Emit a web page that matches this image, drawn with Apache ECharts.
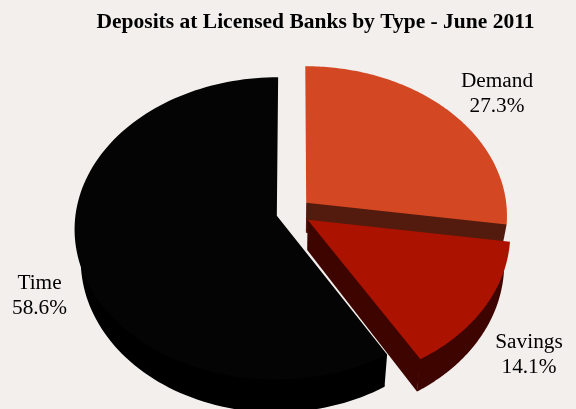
<!DOCTYPE html>
<html>
<head>
<meta charset="utf-8">
<style>html,body{margin:0;padding:0;background:#f2efed}#c{width:576px;height:409px}</style>
<script src="https://cdn.jsdelivr.net/npm/echarts@6/dist/echarts.min.js"></script>
</head>
<body>
<div id="c"></div>
<script>
// Deposit shares by type, clockwise from twelve o'clock
const categories = ['Demand', 'Savings', 'Time'];
const shares = [27.3, 14.1, 58.6];
const chartTitle = 'Deposits at Licensed Banks by Type - June 2011';

const faceColors = ['#d34722', '#ab1300', '#040404'];
const wallColors = ['#531b0d', '#3e0500', '#000000'];
const labelAnchors = [[497, 94], [529, 355], [39.5, 296]];
const explodeX = [0.0807, 0.0807, 0.0885];
// Painter's order: the Savings wedge sits over its neighbours
const drawOrder = [2, 0, 1];

// Projection of the tilted disc
const view = {
  cx: 294, cy: 212, rx: 201, ry: 149.5, persp: 0.0834,
  depth: 30, wallShrink: 0.972, explodeY: 0.094, wallInset: 0.03, backLimit: -0.3
};
const ARC_STEPS = 120;

const total = shares.reduce((a, b) => a + b, 0);

function renderSlice(params, api) {
  const i = api.value(0);
  const value = api.value(1);
  const before = shares.slice(0, i).reduce((a, b) => a + b, 0);
  const a0 = before / total * Math.PI * 2;
  const a1 = (before + value) / total * Math.PI * 2;
  const mid = (a0 + a1) / 2;
  const ex = explodeX[i] * Math.sin(mid);
  const ey = -view.explodeY * Math.cos(mid);

  // Unit-disc point, pushed out along the wedge's middle, then projected
  const top = (u, v) => {
    const wv = v + ey;
    const f = 1 / (1 - view.persp * wv);
    return [view.cx + view.rx * (u + ex) * f, view.cy + view.ry * wv * f, f];
  };
  const under = (p) => [view.cx + (p[0] - view.cx) * view.wallShrink, p[1] + view.depth * p[2]];
  const xy = (p) => [p[0], p[1]];

  const arc = [];
  const frontArc = [];
  for (let s = 0; s <= ARC_STEPS; s++) {
    const a = a0 + (a1 - a0) * s / ARC_STEPS;
    const p = top(Math.sin(a), -Math.cos(a));
    arc.push(p);
    if (-Math.cos(a) > view.backLimit) frontArc.push(p);
  }
  const tip = top(0, 0);
  const inner = top(Math.sin(mid) * 0.5, -Math.cos(mid) * 0.5);
  // Only the radial edge nearer the viewer shows a wall
  const edge = -Math.cos(a0) > -Math.cos(a1) ? arc[0] : arc[arc.length - 1];

  // Upper edges of the walls are tucked under the face so no seam shows
  const tuck = (p) => [
    p[0] + (inner[0] - p[0]) * view.wallInset,
    p[1] + (inner[1] - p[1]) * view.wallInset
  ];
  const face = [tip].concat(arc).map(xy);
  const arcWall = frontArc.map(tuck).concat(frontArc.slice().reverse().map(under));
  const side = [tuck(tip), tuck(edge), xy(edge), under(edge), under(tip), xy(tip)];

  const wallStyle = { fill: wallColors[i] };
  const poly = (points, style) => ({ type: 'polygon', shape: { points }, style });
  const anchor = labelAnchors[i];
  return {
    type: 'group',
    children: [
      poly(side, wallStyle),
      poly(arcWall, wallStyle),
      poly(face, { fill: faceColors[i] }),
      {
        type: 'text', x: anchor[0], y: anchor[1],
        style: {
          text: categories[i] + '\n' + value.toFixed(1) + '%',
          fill: '#000', align: 'center', verticalAlign: 'middle',
          font: '21.3px "Liberation Serif"', lineHeight: 25
        }
      }
    ]
  };
}

const chart = echarts.init(document.getElementById('c'), null, { renderer: 'canvas' });
chart.setOption({
  animation: false,
  backgroundColor: '#f2efed',
  title: {
    text: chartTitle, left: 310.5, top: 6, textAlign: 'center',
    textStyle: { fontFamily: 'Liberation Serif', fontWeight: 'bold', fontSize: 21.5, color: '#000' }
  },
  series: [{
    type: 'custom',
    coordinateSystem: 'none',
    renderItem: renderSlice,
    data: drawOrder.map(i => [i, shares[i]])
  }]
});
</script>
</body>
</html>
